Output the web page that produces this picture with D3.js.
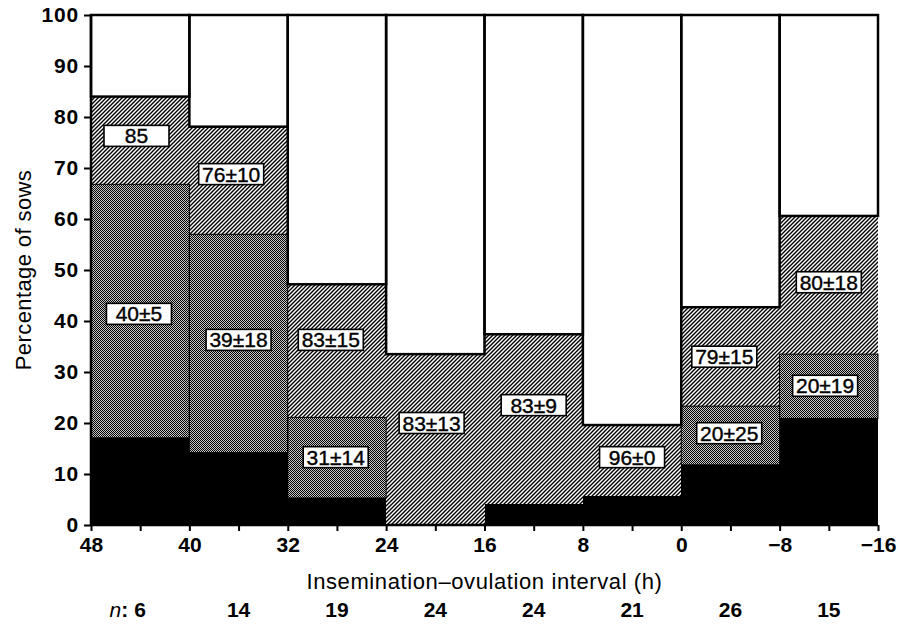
<!DOCTYPE html>
<html><head><meta charset="utf-8">
<script src="https://cdn.jsdelivr.net/npm/d3@7"></script>
<style>body{margin:0;background:#fff}svg{display:block}</style>
</head><body>
<script>
// ---- data ----
const edges = [48, 40, 32, 24, 16, 8, 0, -8, -16];
const tickLabels = ["48", "40", "32", "24", "16", "8", "0", "\u22128", "\u221216"];
const nValues = ["6", "14", "19", "24", "24", "21", "26", "15"];
const black   = [17.1, 14.2, 5.3, 0, 4.1, 5.6, 11.8, 20.9];
const dotted  = [49.7, 42.8, 15.8, 0, 0, 0, 11.5, 12.6];
const hatched = [17.2, 21.1, 26.1, 33.5, 33.3, 14.0, 19.4, 27.1];
const labelText = ["85", "76\u00b110", "40\u00b15", "39\u00b118", "83\u00b115", "31\u00b114", "83\u00b113", "83\u00b19", "96\u00b10", "79\u00b115", "20\u00b125", "20\u00b119", "80\u00b118"];
const labelX = [44.3, 36.6, 44.1, 36.0, 28.5, 28.1, 20.3, 12.0, 4.0, -3.5, -3.9, -11.7, -12.0];
const labelY = [76.3, 68.8, 41.4, 36.3, 36.3, 13.3, 20.0, 23.5, 13.3, 33.0, 18.0, 27.3, 47.6];
const yTicks = [0, 10, 20, 30, 40, 50, 60, 70, 80, 90, 100];

const W = 898, H = 624;
const m = {left: 91, right: 20, top: 15, bottom: 99};
const FONT = "Liberation Sans, Arial, sans-serif";
const svg = d3.select("body").append("svg").attr("width", W).attr("height", H);
const x = d3.scaleLinear().domain([48, -16]).range([m.left, W - m.right]);
const y = d3.scaleLinear().domain([0, 100]).range([H - m.bottom, m.top]);

const defs = svg.append("defs");
const ph = defs.append("pattern").attr("id", "hatch").attr("patternUnits", "userSpaceOnUse")
  .attr("width", 4).attr("height", 4);
ph.append("rect").attr("width", 4).attr("height", 4).attr("fill", "#fff");
ph.append("path").attr("d", "M-1,1 l2,-2 M0,4 l4,-4 M3,5 l2,-2").attr("stroke", "#000").attr("stroke-width", 1.4);
const pd = defs.append("pattern").attr("id", "dots").attr("patternUnits", "userSpaceOnUse")
  .attr("width", 2).attr("height", 2);
pd.append("rect").attr("width", 2).attr("height", 2).attr("fill", "#c4c4c4");
pd.append("rect").attr("width", 1).attr("height", 1).attr("fill", "#000");
pd.append("rect").attr("x", 1).attr("y", 1).attr("width", 1).attr("height", 1).attr("fill", "#000");

const rows = edges.slice(0, -1).map((e, i) => ({
  x0: e, x1: edges[i + 1], black: black[i], dotted: dotted[i], hatched: hatched[i],
  white: 100 - black[i] - dotted[i] - hatched[i]
}));
const keys = ["black", "dotted", "hatched", "white"];
const fills = {black: "#000", dotted: "url(#dots)", hatched: "url(#hatch)", white: "#fff"};
const series = d3.stack().keys(keys)(rows);

const g = svg.append("g");
series.forEach(s => {
  g.selectAll(null).data(s.filter(d => d[1] - d[0] > 0)).join("rect")
    .attr("x", d => x(d.data.x0)).attr("width", d => x(d.data.x1) - x(d.data.x0))
    .attr("y", d => y(d[1])).attr("height", d => y(d[0]) - y(d[1]))
    .attr("fill", fills[s.key]).attr("shape-rendering", "crispEdges");
});
const sd = series.find(s => s.key === "dotted");
g.selectAll(null).data(sd.filter(d => d[1] - d[0] > 0)).join("rect")
  .attr("x", d => x(d.data.x0)).attr("width", d => x(d.data.x1) - x(d.data.x0))
  .attr("y", d => y(d[1])).attr("height", d => y(d[0]) - y(d[1]))
  .attr("fill", "none").attr("stroke", "#000").attr("stroke-width", 1);
const sw = series.find(s => s.key === "white");
g.selectAll(null).data(sw).join("rect")
  .attr("x", d => x(d.data.x0)).attr("width", d => x(d.data.x1) - x(d.data.x0))
  .attr("y", d => y(d[1])).attr("height", d => y(d[0]) - y(d[1]))
  .attr("fill", "none").attr("stroke", "#000").attr("stroke-width", 2.5);

// labels
const lg = svg.append("g").attr("font-family", FONT).attr("font-size", 21);
labelText.forEach((t, i) => {
  const cx = x(labelX[i]), cy = y(labelY[i]);
  const bw = 65, bh = 21;
  lg.append("rect").attr("x", cx - bw / 2).attr("y", cy - bh / 2).attr("width", bw).attr("height", bh)
    .attr("fill", "#fff").attr("stroke", "#000").attr("stroke-width", 1.6);
  lg.append("text").attr("x", cx).attr("y", cy).attr("dy", "0.36em").attr("text-anchor", "middle")
    .attr("stroke", "#000").attr("stroke-width", 0.4).text(t);
});

// axes
const ax = svg.append("g").attr("transform", `translate(0,${y(0)})`)
  .call(d3.axisBottom(x).tickValues(d3.range(48, -17, -4)).tickSize(6).tickPadding(6)
    .tickFormat(v => { const i = edges.indexOf(v); return i >= 0 ? tickLabels[i] : ""; }));
const ay = svg.append("g").attr("transform", `translate(${m.left},0)`)
  .call(d3.axisLeft(y).tickValues(yTicks).tickSize(7).tickPadding(5));
[ax, ay].forEach(a => {
  a.select(".domain").attr("stroke-width", 2.5);
  a.selectAll(".tick line").attr("stroke-width", 2);
  a.selectAll("text").attr("font-family", FONT).attr("font-size", 21)
    .attr("font-weight", "bold").attr("fill", "#000");
});
ay.selectAll("text").attr("letter-spacing", 0.8);
ax.select(".domain").attr("d", `M${m.left},0H${W - m.right}`);
ay.select(".domain").attr("d", `M0,${y(0)}V${y(100)}`);

svg.append("text").attr("x", x(16)).attr("y", 589).attr("text-anchor", "middle")
  .attr("font-family", FONT).attr("font-size", 22).attr("letter-spacing", 0.6)
  .text("Insemination\u2013ovulation interval (h)");
svg.append("text").attr("transform", `translate(31,${y(50)}) rotate(-90)`).attr("text-anchor", "middle")
  .attr("font-family", FONT).attr("font-size", 22).attr("letter-spacing", 0.4).text("Percentage of sows");

const ng = svg.append("g").attr("font-family", FONT).attr("font-size", 21).attr("font-weight", "bold");
nValues.forEach((n, i) => {
  const cx = x((edges[i] + edges[i + 1]) / 2);
  ng.append("text").attr("x", cx).attr("y", 617).attr("text-anchor", "middle").text(n);
});
ng.append("text").attr("x", x((edges[0] + edges[1]) / 2) - 12).attr("y", 617).attr("text-anchor", "end")
  .html('<tspan font-style="italic" font-weight="normal">n</tspan>:');
</script>
</body></html>
